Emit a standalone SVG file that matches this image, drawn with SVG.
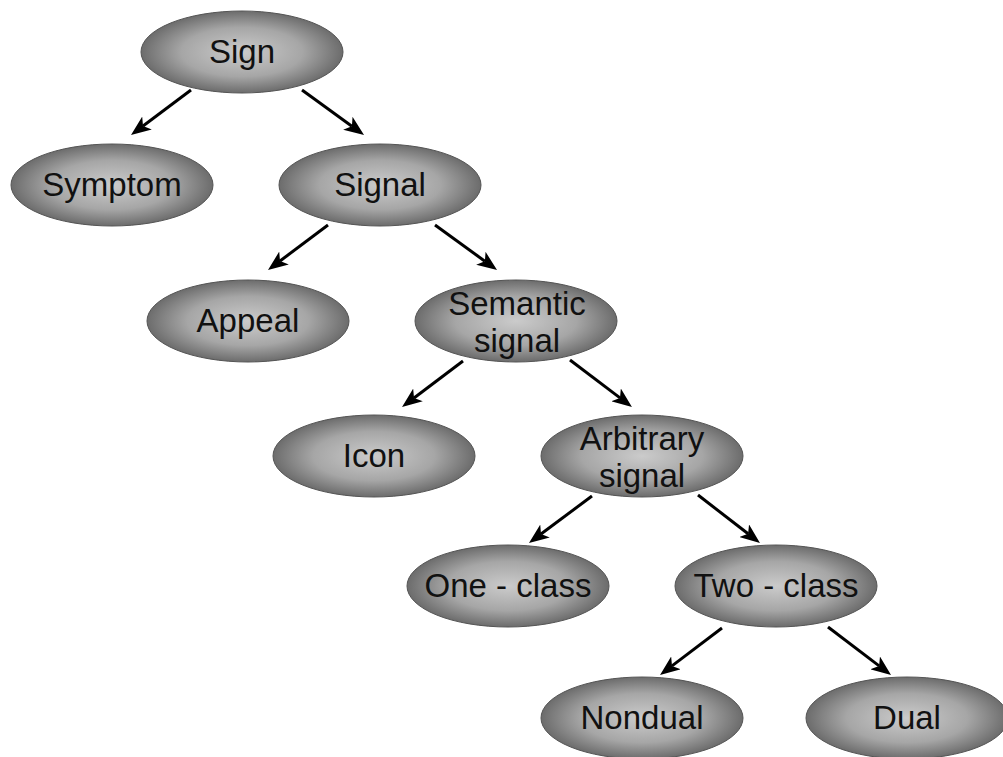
<svg xmlns="http://www.w3.org/2000/svg" width="1003" height="757" viewBox="0 0 1003 757">
<style>
.n{fill:url(#g);stroke:#555;stroke-width:1}
.t{font-family:"Liberation Sans",Arial,sans-serif;font-size:33px;fill:#111;text-anchor:middle}
.c line{stroke:#000;stroke-width:3;marker-end:url(#a)}
</style>
<defs>
<radialGradient id="g" cx="50%" cy="50%" r="50%">
<stop offset="0" stop-color="#cbcbcb"/>
<stop offset="0.6" stop-color="#a6a6a6"/>
<stop offset="1" stop-color="#6c6c6c"/>
</radialGradient>
<marker id="a" markerUnits="userSpaceOnUse" viewBox="0 0 20 16" markerWidth="20" markerHeight="16" refX="5" refY="8" orient="auto">
<path d="M0,0 L20,8 L0,16 L5,8 z" fill="#000"/>
</marker>
</defs>
<rect width="1003" height="757" fill="#fff"/>
<g class="c" id="connectors">
<line x1="191" y1="90" x2="143" y2="126"/>
<line x1="302" y1="90" x2="351.9" y2="126.2"/>
<line x1="328" y1="225" x2="280" y2="261"/>
<line x1="435" y1="225" x2="484.9" y2="261.2"/>
<line x1="463" y1="361" x2="414" y2="398"/>
<line x1="570" y1="360" x2="620" y2="397.9"/>
<line x1="592" y1="496" x2="541" y2="534"/>
<line x1="698" y1="495" x2="748.1" y2="533.8"/>
<line x1="722" y1="628" x2="672" y2="665.9"/>
<line x1="828" y1="627" x2="879.1" y2="665.9"/>
</g>
<g id="sign"><ellipse class="n" cx="242" cy="52" rx="101" ry="41"/><text class="t" x="242" y="63">Sign</text></g>
<g id="symptom"><ellipse class="n" cx="112" cy="185" rx="101" ry="41"/><text class="t" x="112" y="196">Symptom</text></g>
<g id="signal"><ellipse class="n" cx="380" cy="185" rx="101" ry="41"/><text class="t" x="380" y="196">Signal</text></g>
<g id="appeal"><ellipse class="n" cx="248" cy="321" rx="101" ry="41"/><text class="t" x="248" y="332">Appeal</text></g>
<g id="semantic"><ellipse class="n" cx="516" cy="321" rx="101" ry="41"/><text class="t" x="517" y="315">Semantic</text><text class="t" x="517" y="352">signal</text></g>
<g id="icon"><ellipse class="n" cx="374" cy="456" rx="101" ry="41"/><text class="t" x="374" y="467">Icon</text></g>
<g id="arbitrary"><ellipse class="n" cx="642" cy="456" rx="101" ry="41"/><text class="t" x="642" y="450">Arbitrary</text><text class="t" x="642" y="487">signal</text></g>
<g id="oneclass"><ellipse class="n" cx="508" cy="586" rx="101" ry="41"/><text class="t" x="508" y="597">One - class</text></g>
<g id="twoclass"><ellipse class="n" cx="776" cy="586" rx="101" ry="41"/><text class="t" x="776" y="597">Two - class</text></g>
<g id="nondual"><ellipse class="n" cx="642" cy="718" rx="101" ry="41"/><text class="t" x="642" y="729">Nondual</text></g>
<g id="dual"><ellipse class="n" cx="907" cy="718" rx="101" ry="41"/><text class="t" x="907" y="729">Dual</text></g>
</svg>
